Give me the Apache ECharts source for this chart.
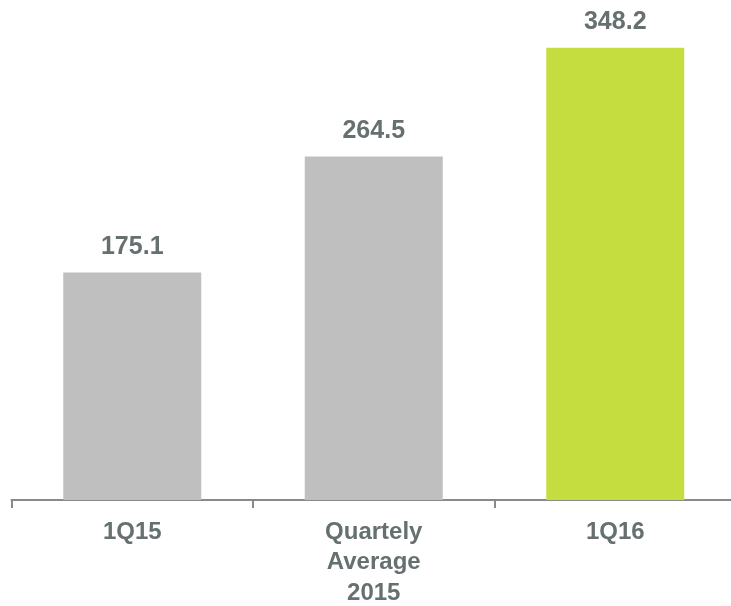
<!DOCTYPE html>
<html>
<head>
<meta charset="utf-8">
<script src="https://cdn.jsdelivr.net/npm/echarts@6/dist/echarts.min.js"></script>
<style>
  html, body { margin: 0; padding: 0; background: #ffffff; }
  #chart { width: 731px; height: 606px; }
</style>
</head>
<body>
<div id="chart"></div>
<script>
// Periods shown along the bottom axis
const categories = ['1Q15', 'Quartely\nAverage\n2015', '1Q16'];
// Value for each period
const values = [175.1, 264.5, 348.2];
// Bar fill per period (the latest quarter is highlighted)
const barColors = ['#bfbfbf', '#bfbfbf', '#c5dd3f'];

const chart = echarts.init(document.getElementById('chart'), null, { renderer: 'canvas' });

chart.setOption({
  animation: false,
  grid: {
    left: 11.5, width: 724.5, top: 0, bottom: 106,
    containLabel: false,
    outerBoundsMode: 'none'
  },
  xAxis: {
    type: 'category',
    data: categories,
    axisLine: { show: true, lineStyle: { color: '#898989', width: 2 } },
    axisTick: { show: true, length: 8, lineStyle: { color: '#898989', width: 2 } },
    axisLabel: {
      margin: 17,
      color: '#677070',
      fontFamily: 'Liberation Sans, Arial, sans-serif',
      fontWeight: 'bold',
      fontSize: 24,
      lineHeight: 30.5
    }
  },
  yAxis: {
    type: 'value',
    min: 0,
    max: 385,
    show: false,
    splitLine: { show: false }
  },
  series: [{
    type: 'bar',
    barWidth: 138,
    data: values.map((v, i) => ({ value: v, itemStyle: { color: barColors[i] } })),
    label: {
      show: true,
      position: 'top',
      distance: 13,
      color: '#677070',
      fontFamily: 'Liberation Sans, Arial, sans-serif',
      fontWeight: 'bold',
      fontSize: 25,
      formatter: p => p.value.toFixed(1)
    }
  }]
});
</script>
</body>
</html>
